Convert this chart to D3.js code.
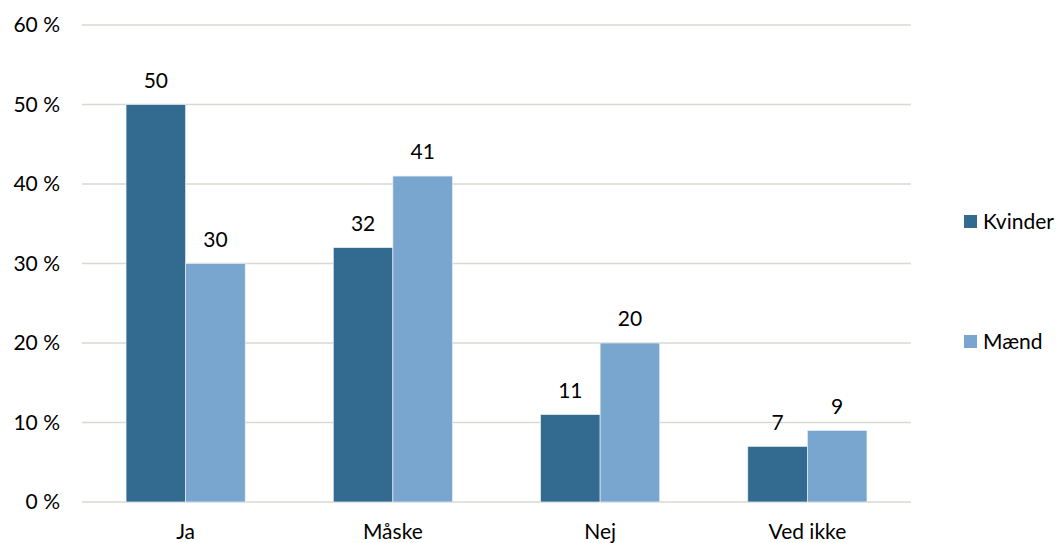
<!DOCTYPE html>
<html>
<head>
<meta charset="utf-8">
<script src="https://cdn.jsdelivr.net/npm/d3@7"></script>
<style>
  body { margin: 0; background: #fff; }
  text { font-family: Lato, "Open Sans", sans-serif; fill: #000; }
</style>
</head>
<body>
<div id="chart"></div>
<script>
var categories = ["Ja", "Måske", "Nej", "Ved ikke"];
var seriesNames = ["Kvinder", "Mænd"];
var kvinder = [50, 32, 11, 7];
var maend = [30, 41, 20, 9];
var yTicks = [0, 10, 20, 30, 40, 50, 60];
var colors = ["#336a90", "#79a6ce"];

let width = 1058, height = 543;
let margin = {top: 25, left: 82, right: 147, bottom: 41};
let plotW = width - margin.left - margin.right;
let plotH = height - margin.top - margin.bottom;

let svg = d3.select('#chart').append('svg')
    .attr('width', width)
    .attr('height', height);

let g = svg.append('g')
    .attr('transform', 'translate(' + margin.left + ',' + margin.top + ')');

let x = d3.scaleBand()
    .domain(categories)
    .range([0, plotW])
    .paddingInner(0.425)
    .paddingOuter(0.2125);

let xSub = d3.scaleBand()
    .domain(seriesNames)
    .range([0, x.bandwidth()]);

let y = d3.scaleLinear()
    .domain([0, 60])
    .range([plotH, 0]);

// gridlines
g.append('g')
    .selectAll('line')
    .data(yTicks)
    .enter().append('line')
    .attr('x1', 0)
    .attr('x2', plotW)
    .attr('y1', d => y(d))
    .attr('y2', d => y(d))
    .attr('stroke', '#d9d9d0')
    .attr('stroke-width', 1.5);

// y labels
g.append('g')
    .selectAll('text')
    .data(yTicks)
    .enter().append('text')
    .attr('x', -22)
    .attr('y', d => y(d))
    .attr('dy', '0.35em')
    .attr('text-anchor', 'end')
    .style('font-size', '21px')
    .text(d => d + ' %');

// bars
let data = categories.map((c, i) => [
    {cat: c, s: seriesNames[0], v: kvinder[i], col: colors[0]},
    {cat: c, s: seriesNames[1], v: maend[i], col: colors[1]}
]);

let groups = g.selectAll('.grp')
    .data(data)
    .enter().append('g')
    .attr('class', 'grp')
    .attr('transform', d => 'translate(' + x(d[0].cat) + ',0)');

groups.selectAll('rect')
    .data(d => d)
    .enter().append('rect')
    .attr('x', d => xSub(d.s))
    .attr('y', d => y(d.v))
    .attr('width', xSub.bandwidth())
    .attr('height', d => y(0) - y(d.v))
    .attr('fill', d => d.col)
    .attr('stroke', '#e8eef4')
    .attr('stroke-width', 0.7);

groups.selectAll('text')
    .data(d => d)
    .enter().append('text')
    .attr('x', d => xSub(d.s) + xSub.bandwidth() / 2)
    .attr('y', d => y(d.v) - 24)
    .attr('dy', '0.35em')
    .attr('text-anchor', 'middle')
    .style('font-size', '21px')
    .text(d => d.v);

// x labels
g.append('g')
    .selectAll('text')
    .data(categories)
    .enter().append('text')
    .attr('x', d => x(d) + x.bandwidth() / 2)
    .attr('y', plotH + 30)
    .attr('dy', '0.35em')
    .attr('text-anchor', 'middle')
    .style('font-size', '21px')
    .text(d => d);

// legend
let legend = svg.append('g')
    .selectAll('g')
    .data(seriesNames)
    .enter().append('g')
    .attr('transform', (d, i) => 'translate(964,' + (215 + i * 120) + ')');

legend.append('rect')
    .attr('width', 13)
    .attr('height', 13)
    .attr('fill', (d, i) => colors[i]);

legend.append('text')
    .attr('x', 19)
    .attr('y', 7)
    .attr('dy', '0.35em')
    .style('font-size', '21px')
    .text(d => d);
</script>
</body>
</html>
